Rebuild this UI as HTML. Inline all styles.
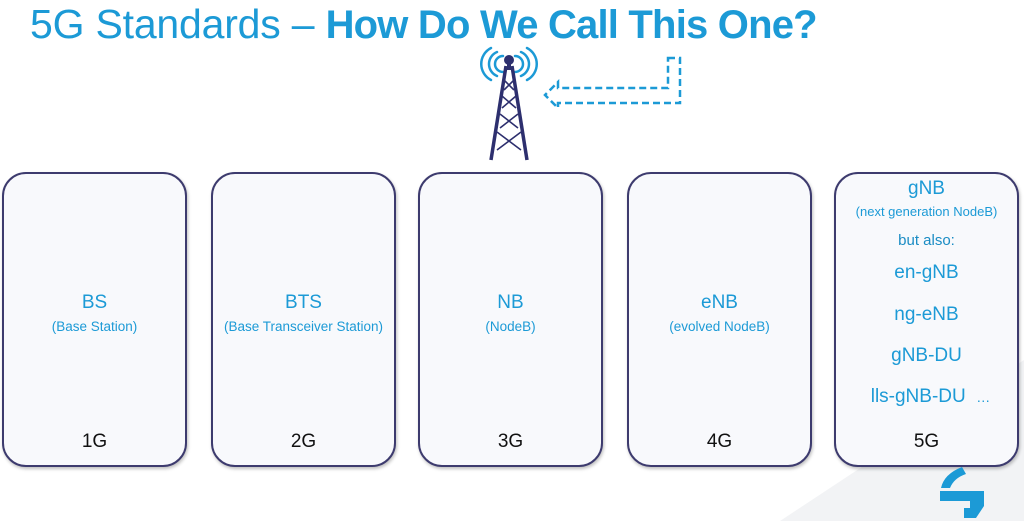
<!DOCTYPE html>
<html><head><meta charset="utf-8"><style>
body{margin:0;width:1024px;height:521px;background:#fff;position:relative;overflow:hidden;font-family:"Liberation Sans",sans-serif}
.t{position:absolute;left:30px;top:1px;font-size:41px;color:#1c9ad6;white-space:nowrap;letter-spacing:-0.2px}
.t b{font-weight:bold;letter-spacing:-0.8px;font-size:40px}
.box{position:absolute;top:172px;width:181px;height:291px;border:2px solid #3d3b6e;border-radius:24px;background:#f8f9fc;box-shadow:1px 2px 3px rgba(0,0,0,.25);text-align:center;color:#1c9ad6}
.nm{position:absolute;left:0;right:0;top:118px;font-size:19px}
.sub{position:absolute;left:-10px;right:-10px;top:145px;font-size:13.5px}
.g{position:absolute;left:0;right:0;bottom:12px;font-size:19px;color:#111}
.l{position:absolute;left:0;right:0;font-size:19px}
</style></head><body>
<svg style="position:absolute;left:0;top:0" width="1024" height="521"><polygon points="780,521 1024,360 1024,521" fill="#f2f3f5"/></svg>
<div class="t">5G Standards – <b>How Do We Call This One?</b></div>
<svg style="position:absolute;left:0;top:0" width="1024" height="170">
<g fill="none" stroke="#1c9ad6" stroke-width="2.5" stroke-linecap="round">
<path d="M503 56 a8 8 0 0 0 0 16"/><path d="M497 52 a13 13 0 0 0 0 24"/><path d="M491 48 a18 18 0 0 0 0 32"/>
<path d="M515 56 a8 8 0 0 1 0 16"/><path d="M521 52 a13 13 0 0 1 0 24"/><path d="M527 48 a18 18 0 0 1 0 32"/></g>
<g stroke="#2d2f6e" fill="none"><line x1="509" y1="58" x2="509" y2="70" stroke-width="4"/><path d="M506 66 L491 160 M512 66 L527 160" stroke-width="3.5"/>
<path d="M504 80 L514 90 M514 80 L504 90 M502 96 L516 108 M516 96 L502 108 M500 114 L518 128 M518 114 L500 128 M497 132 L521 150 M521 132 L497 150" stroke-width="1.6"/></g>
<circle cx="509" cy="60" r="5" fill="#2d2f6e"/>
<polygon points="668,58 680,58 680,103 558,103 558,108 545,95 558,82 558,88 668,88" fill="none" stroke="#1c9ad6" stroke-width="2.5" stroke-dasharray="7,4"/>
</svg>
<div class="box" style="left:2px"><div class="nm">BS</div><div class="sub">(Base Station)</div><div class="g">1G</div></div>
<div class="box" style="left:211px"><div class="nm">BTS</div><div class="sub">(Base Transceiver Station)</div><div class="g">2G</div></div>
<div class="box" style="left:418px"><div class="nm">NB</div><div class="sub">(NodeB)</div><div class="g">3G</div></div>
<div class="box" style="left:627px"><div class="nm">eNB</div><div class="sub">(evolved NodeB)</div><div class="g">4G</div></div>
<div class="box" style="left:834px">
<div class="l" style="top:4px">gNB</div><div class="sub" style="top:30px;font-size:13px">(next generation NodeB)</div>
<div class="l" style="top:58px;font-size:15px;color:#1a8cc4">but also:</div>
<div class="l" style="top:88px">en-gNB</div><div class="l" style="top:130px">ng-eNB</div>
<div class="l" style="top:171px">gNB-DU</div><div class="l" style="top:212px;left:8px">lls-gNB-DU &nbsp;<span style="font-size:14px">…</span></div>
<div class="g">5G</div></div>
<svg style="position:absolute;left:936px;top:464px" width="56" height="56">
<path d="M26 3 L30 10 Q18 14 14 24 L5 24 Q8 10 26 3 Z" fill="#1c9ad6"/><path d="M4 27 H48 V42 L40 54 H28 V44 H34 V37 H4 Z" fill="#1c9ad6"/></svg>
</body></html>
